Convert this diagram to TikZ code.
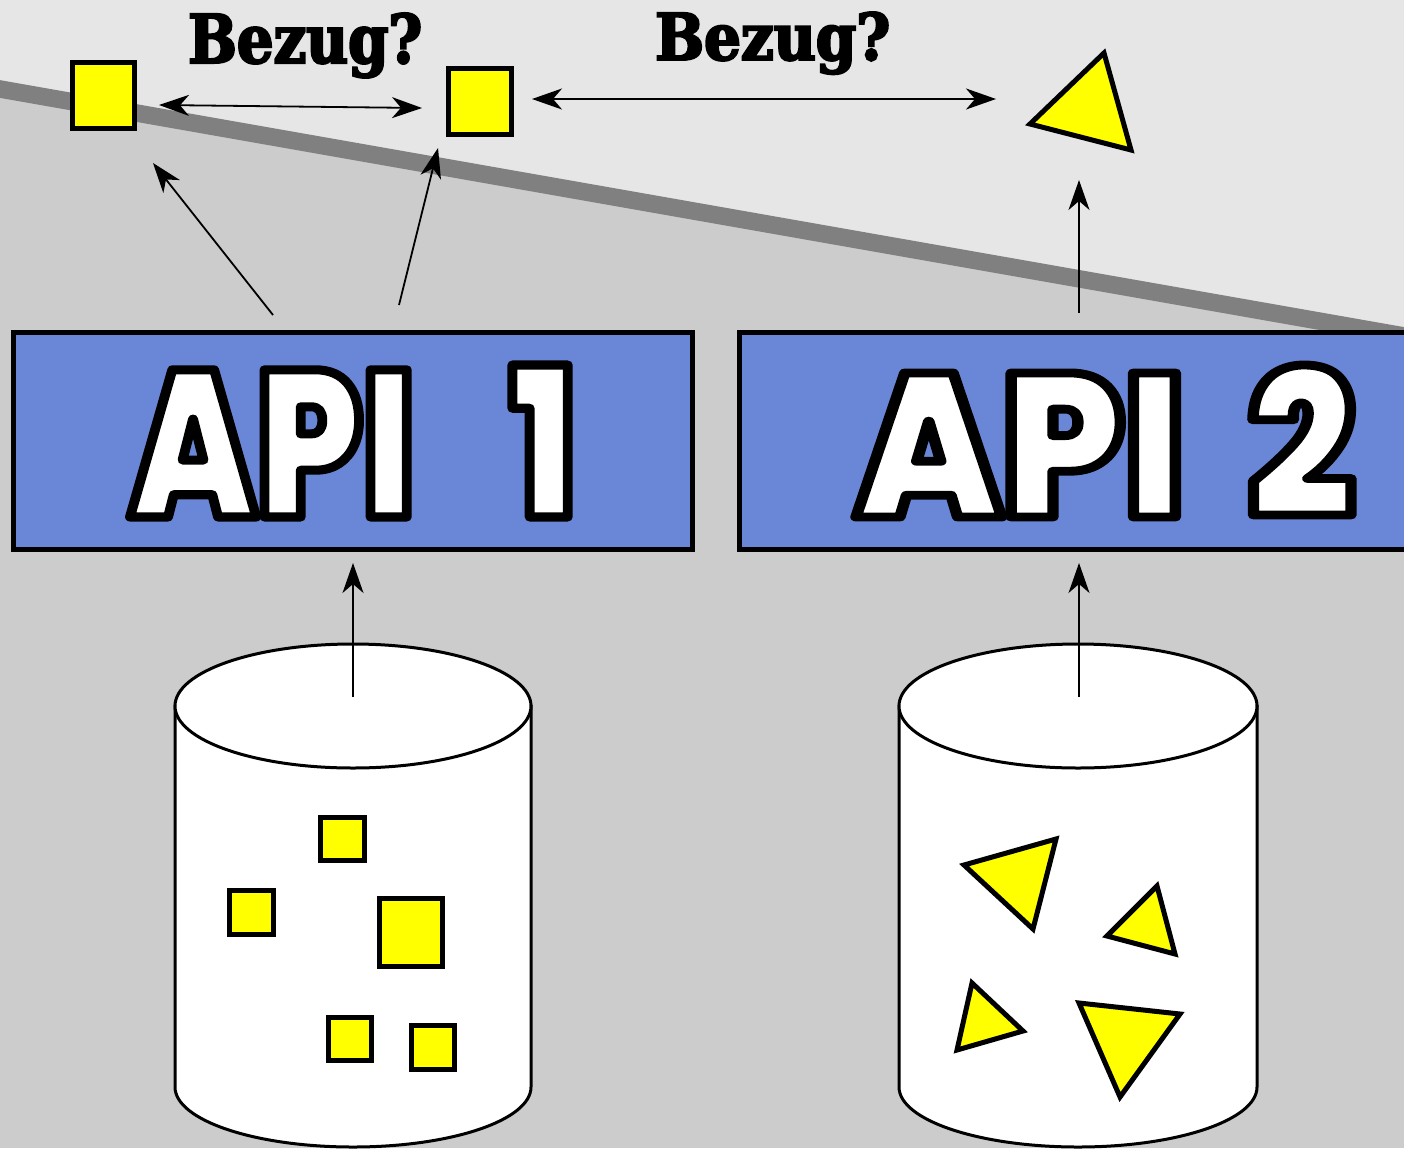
\documentclass[tikz,border=0pt]{standalone}
\usepackage{fontspec}
\usepackage{graphicx}
\usetikzlibrary{arrows.meta}
\newfontfamily\apifont{Poppins}[UprightFont=* Black, FakeStretch=0.72]
\newfontfamily\heavyfont{DejaVu Serif}[FakeStretch=0.72, FakeBold=3]

% white letters with a black stroke round them (fill+stroke render mode)
\newcommand\outlinedtext[1]{%
  \special{pdf:literal direct 0 G 2 Tr 2.6 w 1 j}#1\special{pdf:literal direct 0 Tr}}

\definecolor{bglight}{HTML}{E6E6E6}
\definecolor{bgmid}{HTML}{CCCCCC}
\definecolor{bandgray}{HTML}{808080}
\definecolor{apiblue}{HTML}{6A86D6}
\definecolor{itemyellow}{HTML}{FFFF00}

\tikzset{
  apibox/.style={draw=black, line width=5pt, fill=apiblue, inner sep=0pt},
  itemsq/.style={draw=black, line width=5pt, fill=itemyellow, inner sep=0pt},
  itemtri/.style={draw=black, line width=5pt, fill=itemyellow, line join=miter},
  dbcyl/.style={draw=black, line width=3pt, fill=white},
  link/.style={draw=black, line width=1.8pt, -{Stealth[length=30pt, width=21pt, inset=9pt]}},
  dlink/.style={draw=black, line width=1.8pt, {Stealth[length=30pt, width=21pt, inset=9pt]}-{Stealth[length=30pt, width=21pt, inset=9pt]}},
  bezug/.style={anchor=base west, inner sep=0pt},
}

\begin{document}
\begin{tikzpicture}[x=1pt, y=-1pt]
\useasboundingbox (0,0) rectangle (1404,1148);
\clip (0,0) rectangle (1404,1148);

% background: two grey planes divided by a slanted band
\fill[bgmid] (0,0) rectangle (1404,1148);
\fill[bglight] (0,0) -- (1404,0) -- (1404,336) -- (0,89) -- cycle;
\draw[bandgray, line width=17.5pt] (-20,85.5) -- (1424,339.5);

% API boxes
\node[apibox, minimum width=679pt, minimum height=217pt] (api1) at (353,441)
  {\resizebox{446pt}{152pt}{\fontsize{60pt}{60pt}\apifont\color{white}\outlinedtext{API\hspace{0.3em} 1}}};
\node[apibox, minimum width=732pt, minimum height=217pt] (api2) at (1105.5,441)
  {\resizebox{499pt}{152pt}{\fontsize{60pt}{60pt}\apifont\color{white}\outlinedtext{API\hspace{0.12em} 2}}};

% database 1
\coordinate (db1) at (353,706);
\path[dbcyl] (175,706) -- (175,1087) arc (180:0:178 and 60) -- (531,706) -- cycle;
\draw[dbcyl] (db1) ellipse (178 and 62);
\node[itemsq, minimum width=44pt, minimum height=43pt] (s1) at (342.5,839) {};
\node[itemsq, minimum width=44pt, minimum height=44pt] (s2) at (251.5,912.5) {};
\node[itemsq, minimum width=63pt, minimum height=68pt] (s3) at (411,932.5) {};
\node[itemsq, minimum width=43pt, minimum height=43pt] (s4) at (350,1039) {};
\node[itemsq, minimum width=43pt, minimum height=44pt] (s5) at (433,1047.5) {};

% database 2
\coordinate (db2) at (1078,706);
\path[dbcyl] (899,706) -- (899,1087) arc (180:0:179 and 60) -- (1257,706) -- cycle;
\draw[dbcyl] (db2) ellipse (179 and 62);
\draw[itemtri] (964,865) -- (1056,839) -- (1033,929) -- cycle;
\draw[itemtri] (1157,886) -- (1175,954) -- (1107,936) -- cycle;
\draw[itemtri] (972,983) -- (1023,1031) -- (957,1050) -- cycle;
\draw[itemtri] (1079,1003) -- (1180,1014) -- (1120,1097) -- cycle;

% items delivered by the APIs
\node[itemsq, minimum width=62pt, minimum height=66pt] (q1) at (103.5,95.5) {};
\node[itemsq, minimum width=63pt, minimum height=66pt] (q2) at (480,101.5) {};
\draw[itemtri] (1104,53) -- (1030,124) -- (1131,150) -- cycle;
\coordinate (t1) at (1088,109);

% labels
\node[bezug] (b1) at (188,63) {\resizebox{234pt}{50pt}{\fontsize{40pt}{40pt}\heavyfont\bfseries Bezug?}};
\node[bezug] (b2) at (655,60) {\resizebox{235pt}{48pt}{\fontsize{40pt}{40pt}\heavyfont\bfseries Bezug?}};

% connector end points
\coordinate (c1a) at (273,315);  \coordinate (c1b) at (153,163);
\coordinate (c2a) at (399,305);  \coordinate (c2b) at (438,148);
\coordinate (c3a) at (1079,313); \coordinate (c3b) at (1079,180);
\coordinate (c4a) at (353,697);  \coordinate (c4b) at (353,563);
\coordinate (c5a) at (1079,697); \coordinate (c5b) at (1079,563);
\coordinate (d1a) at (159,105);  \coordinate (d1b) at (422,108);
\coordinate (d2a) at (532,99);   \coordinate (d2b) at (996,99);

% connectors
\draw[link] (c1a) -- (c1b);
\draw[link] (c2a) -- (c2b);
\draw[link] (c3a) -- (c3b);
\draw[link] (c4a) -- (c4b);
\draw[link] (c5a) -- (c5b);
\draw[dlink] (d1a) -- (d1b);
\draw[dlink] (d2a) -- (d2b);
\end{tikzpicture}
\end{document}
